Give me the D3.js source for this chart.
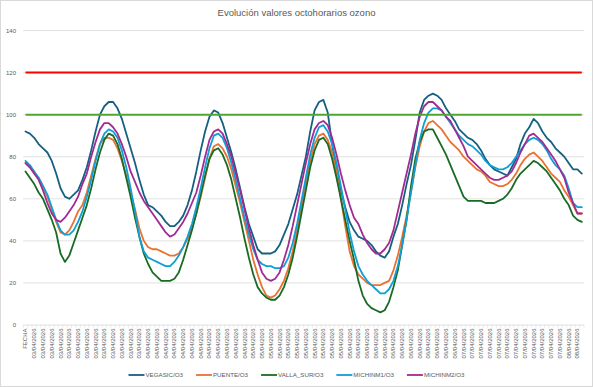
<!DOCTYPE html>
<html lang="es">
<head>
<meta charset="utf-8">
<style>
  body { margin: 0; background: #fff; }
  text { font-family: "Liberation Sans", Arial, sans-serif; fill: #595959; }
  .grid line { stroke: #d9d9d9; stroke-width: 0.8px; }
  .serie { fill: none; stroke-width: 1.8px; stroke-linejoin: round; stroke-linecap: round; }
</style>
</head>
<body>
<script src="https://cdn.jsdelivr.net/npm/d3@7"></script>
<script>
// categorias: primera fila "FECHA", luego una por hora
var dias = ["03/04/2026", "04/04/2026", "05/04/2026", "06/04/2026", "07/04/2026", "08/04/2026"];
var horasPorDia = [27, 24, 24, 24, 24, 4];

var vegasic = [92,91,89,86,84,82,78,72,65,61, 60,62,64,69,75,83,92,100,104,106,
  106,103,98,91,84,77,69,62,57,56, 54,52,49,47,47,49,52,57,64,73,
  83,92,99,102,101,96,89,82,74,65, 56,48,42,36,34,34,34,35,38,43,
  48,55,62,71,80,92,102,106,107,101, 86,73,64,56,49,45,42,41,40,38,
  35,33,32,35,42,48,57,67,76,88, 101,107,109,110,109,107,103,100,97,93,
  91,89,88,86,83,79,76,74,73,72, 71,75,79,86,91,94,98,96,92,89,
  87,84,82,80,77,74,74,72];
var puente = [77,75,72,70,66,61,55,49,44,43, 45,49,54,57,63,71,79,86,89,89,
  88,84,78,71,63,55,46,40,37,36, 36,35,34,33,33,34,37,41,46,53,
  61,70,79,85,86,84,80,74,66,58, 49,40,31,24,18,14,13,14,17,21,
  27,35,45,56,67,78,86,90,91,88, 82,73,60,47,35,28,24,22,20,19,
  19,19,20,21,26,33,42,52,63,75, 85,92,96,97,95,93,90,87,85,83,
  80,78,76,74,73,71,68,67,66,66, 67,69,72,76,79,81,82,80,78,75,
  72,70,68,64,61,57,53,53];
var vallaSur = [73,70,67,63,60,55,50,44,34,30, 33,39,45,51,57,65,74,82,88,91,
  90,86,79,70,61,51,42,34,29,25, 23,21,21,21,22,25,31,38,45,53,
  62,71,79,83,84,81,76,69,60,51, 41,32,24,18,15,13,12,12,14,18,
  24,32,42,53,64,75,83,88,89,86, 79,70,60,50,40,31,21,14,10,8,
  7,6,7,11,18,26,38,50,66,79, 87,92,93,93,89,85,81,76,71,66,
  61,59,59,59,59,58,58,58,59,60, 62,65,69,72,74,76,78,77,75,73,
  70,67,64,60,57,52,50,49];
var michinm1 = [78,76,73,70,66,62,56,50,45,43, 43,45,49,54,61,69,78,86,91,93,
  92,89,83,75,65,54,42,35,32,31, 30,29,28,28,30,33,37,42,48,56,
  65,75,84,90,91,89,84,77,69,60, 51,43,36,31,29,28,28,27,27,28,
  32,39,48,59,70,81,89,94,95,92, 86,77,66,55,44,35,28,24,21,19,
  17,15,15,17,21,28,38,50,63,76, 88,96,101,103,103,102,99,96,93,90,
  88,86,85,83,81,78,76,75,74,74, 75,77,80,83,86,88,89,88,86,83,
  79,76,74,71,65,58,56,56];
var michinm2 = [77,75,72,69,64,58,53,50,49,51, 54,57,61,67,72,80,87,93,96,96,
  94,91,86,80,73,68,63,59,56,53, 50,47,44,42,43,46,49,53,58,63,
  71,80,88,92,93,91,86,80,72,64, 55,46,38,31,25,22,21,22,25,31,
  38,47,57,67,77,86,93,96,97,95, 89,81,72,64,57,51,48,43,39,36,
  34,34,36,39,45,54,63,72,81,91, 99,104,106,106,104,102,99,97,93,89,
  85,80,78,76,74,72,70,69,69,70, 71,73,77,82,86,90,91,89,87,84,
  81,78,74,70,63,58,53,53];

var umbralInformacion = 120;
var valorObjetivo = 100;
var yTicks = [0, 20, 40, 60, 80, 100, 120, 140];

var series = [
  { nombre: "VEGASIC/O3", valores: vegasic, color: "#156082" },
  { nombre: "PUENTE/O3", valores: puente, color: "#E97132" },
  { nombre: "VALLA_SUR/O3", valores: vallaSur, color: "#196B24" },
  { nombre: "MICHINM1/O3", valores: michinm1, color: "#0F9ED5" },
  { nombre: "MICHINM2/O3", valores: michinm2, color: "#A02B93" }
];

var fechas = ["FECHA"];
dias.forEach(function (d, i) {
  for (var h = 0; h < horasPorDia[i]; h++) fechas.push(d);
});

var width = 593, height = 387;
var svg = d3.select("body").append("svg")
  .attr("width", width)
  .attr("height", height);

svg.append("rect")
  .attr("x", 0.5).attr("y", 0.5)
  .attr("width", width - 1).attr("height", height - 1)
  .attr("fill", "#fff").attr("stroke", "#d9d9d9");

svg.append("text")
  .attr("x", width / 2).attr("y", 16)
  .attr("text-anchor", "middle")
  .style("font-size", "9.5px")
  .text("Evolución valores octohorarios ozono");

var x = d3.scaleBand().domain(d3.range(fechas.length)).range([23.3, 584]);
var y = d3.scaleLinear().domain([0, 140]).range([325, 30.5]);
function cx(i) { return x(i) + x.bandwidth() / 2; }

// lineas de cuadricula
svg.append("g").attr("class", "grid")
  .selectAll("line")
  .data(yTicks.filter(function (d) { return d > 0; }))
  .enter().append("line")
  .attr("x1", 23.3).attr("x2", 584)
  .attr("y1", function (d) { return y(d); })
  .attr("y2", function (d) { return y(d); });

svg.append("g").selectAll("text")
  .data(yTicks)
  .enter().append("text")
  .attr("x", 16).attr("y", function (d) { return y(d) + 2; })
  .attr("text-anchor", "end")
  .style("font-size", "6px")
  .text(function (d) { return d; });

// eje x
svg.append("line")
  .attr("x1", 23.3).attr("x2", 584)
  .attr("y1", y(0)).attr("y2", y(0))
  .attr("stroke", "#d9d9d9").attr("stroke-width", 0.8);

svg.append("g").selectAll("line")
  .data(d3.range(fechas.length + 1))
  .enter().append("line")
  .attr("x1", function (i) { return 23.3 + i * x.step(); })
  .attr("x2", function (i) { return 23.3 + i * x.step(); })
  .attr("y1", y(0)).attr("y2", y(0) + 2.5)
  .attr("stroke", "#d9d9d9").attr("stroke-width", 0.6);

svg.append("g").selectAll("text")
  .data(d3.range(0, fechas.length, 2))
  .enter().append("text")
  .attr("transform", function (i) { return "translate(" + (cx(i) + 2) + "," + (y(0) + 3.5) + ") rotate(-90)"; })
  .attr("text-anchor", "end")
  .style("font-size", "6px")
  .text(function (i) { return fechas[i]; });

var line = d3.line()
  .x(function (d, i) { return cx(i); })
  .y(function (d) { return y(d); });

svg.append("g").selectAll("path")
  .data(series)
  .enter().append("path")
  .attr("class", "serie")
  .attr("stroke", function (s) { return s.color; })
  .attr("d", function (s) { return line(s.valores); });

// limites
svg.append("line")
  .attr("x1", cx(0)).attr("x2", cx(fechas.length - 1))
  .attr("y1", y(umbralInformacion)).attr("y2", y(umbralInformacion))
  .attr("stroke", "#FF0000").attr("stroke-width", 2);
svg.append("line")
  .attr("x1", cx(0)).attr("x2", cx(fechas.length - 1))
  .attr("y1", y(valorObjetivo)).attr("y2", y(valorObjetivo))
  .attr("stroke", "#4EA72E").attr("stroke-width", 2);

// leyenda
var legend = svg.append("g");
var items = legend.selectAll("g")
  .data(series)
  .enter().append("g");
items.append("line")
  .attr("x1", 0).attr("x2", 16)
  .attr("y1", 0).attr("y2", 0)
  .attr("stroke", function (s) { return s.color; })
  .attr("stroke-width", 1.8);
items.append("text")
  .attr("x", 17).attr("y", 2)
  .style("font-size", "6.2px")
  .text(function (s) { return s.nombre; });

var pos = 0, offsets = [];
items.each(function () {
  offsets.push(pos);
  pos += 17 + this.querySelector("text").getComputedTextLength() + 13;
});
var total = pos - 13;
var start = width / 2 - total / 2;
items.attr("transform", function (s, i) { return "translate(" + (start + offsets[i]) + ",375)"; });
</script>
</body>
</html>
